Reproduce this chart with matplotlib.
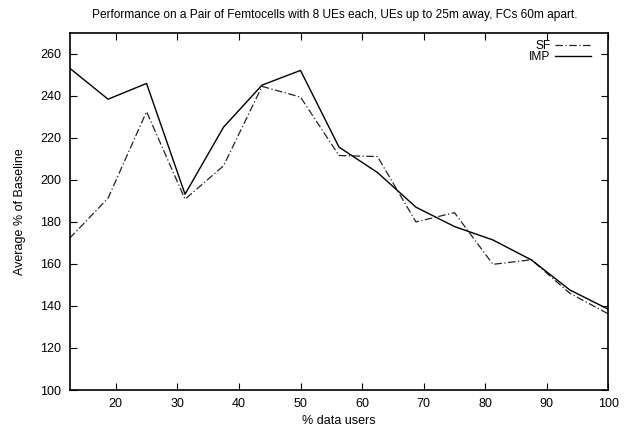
import matplotlib
matplotlib.use('Agg')
import matplotlib.pyplot as plt

plt.rcParams['font.family'] = ['Liberation Sans', 'DejaVu Sans']

# % data users
x_pct = [12.5, 18.75, 25, 31.25, 37.5, 43.75, 50, 56.25, 62.5, 68.75,
         75, 81.25, 87.5, 93.75, 100]
sf_vals = [172.2, 191.3, 232.5, 190.8, 206.7, 244.5, 239.4, 211.6, 211.1,
           180.0, 184.4, 159.8, 162.0, 146.0, 136.2]
imp_vals = [253.2, 238.4, 245.9, 193.2, 225.1, 245.1, 252.1, 215.6, 203.5,
            187.0, 177.8, 171.4, 161.9, 147.6, 138.4]
x_ticks = [20, 30, 40, 50, 60, 70, 80, 90, 100]
y_ticks = [100, 120, 140, 160, 180, 200, 220, 240, 260]

fig = plt.figure(figsize=(6.24, 4.26), dpi=100, facecolor='white')
ax = fig.add_axes([0.1115, 0.0845, 0.8635, 0.8385])

ax.plot(x_pct, sf_vals, color='#222222', linewidth=0.9,
        linestyle=(0, (6, 2, 1, 2)), label='SF')
ax.plot(x_pct, imp_vals, color='black', linewidth=1.0, label='IMP')

ax.set_xlim(12.5, 100)
ax.set_ylim(100, 270)
ax.set_xticks(x_ticks)
ax.set_yticks(y_ticks)
ax.tick_params(direction='in', length=5, width=0.8, labelsize=9,
               top=True, right=True, pad=6)
for s in ax.spines.values():
    s.set_linewidth(1.2)

ax.set_xlabel('% data users', fontsize=9, labelpad=3)
ax.set_ylabel('Average % of Baseline', fontsize=9, labelpad=10)
fig.text(0.537, 0.965, 'Performance on a Pair of Femtocells with 8 UEs each, '
         'UEs up to 25m away, FCs 60m apart.', ha='center', va='center',
         fontsize=8.6)

ax.legend(loc='upper right', bbox_to_anchor=(0.968, 0.979), frameon=False,
          markerfirst=False, fontsize=8.6, handlelength=3.0,
          handletextpad=0.4, labelspacing=-0.1, borderaxespad=0.0,
          borderpad=0.0)

fig.savefig('out.png', dpi=100, facecolor='white')
